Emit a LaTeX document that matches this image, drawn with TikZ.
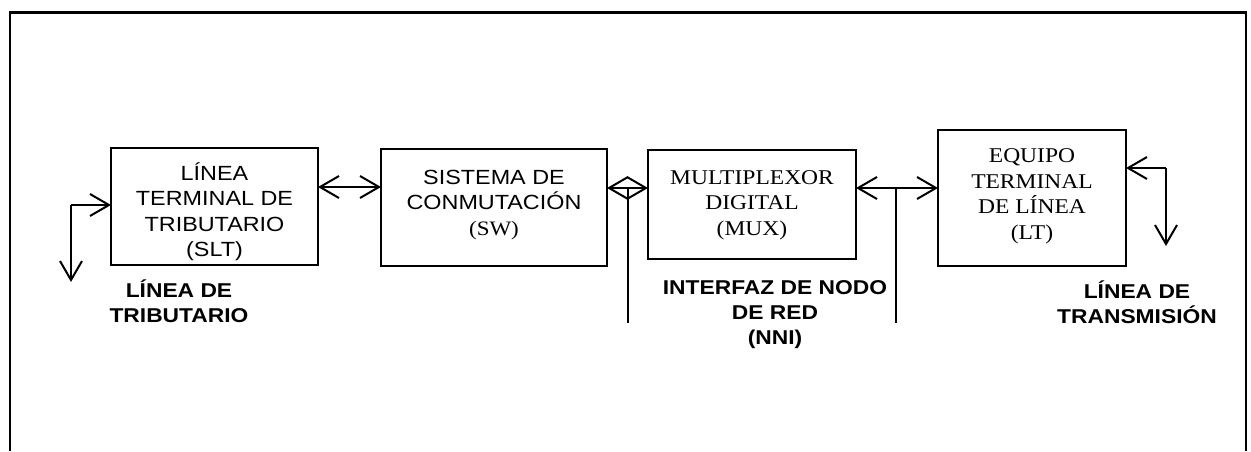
\documentclass[tikz,border=0pt]{standalone}
\usepackage{fontspec}
\setmainfont[FakeStretch=1.14]{Liberation Sans}
\newfontfamily\boxserif[FakeStretch=1.12]{Liberation Serif}
\usetikzlibrary{arrows.meta}
\newcommand{\shiftup}[2]{\raisebox{#1}[\height][\depth]{\begin{tabular}{@{}c@{}}#2\end{tabular}}}
\tikzset{
  blk/.style={draw, line width=2.4pt, outer sep=0pt, align=center, inner sep=0pt,
    font=\fontsize{20.5}{25.5}\selectfont},
  serifblk/.style={blk, font=\boxserif\fontsize{21}{25.5}\selectfont},
  conn/.style={line width=2pt},
  tip/.style={-{Straight Barb[length=19pt,width=22pt,line width=2pt]}},
  tips/.style={{Straight Barb[length=19pt,width=22pt,line width=2pt]}-{Straight Barb[length=19pt,width=22pt,line width=2pt]}},
  lbl/.style={align=center, font=\bfseries\fontsize{20}{25}\selectfont, inner sep=0pt}
}
\begin{document}
\begin{tikzpicture}[x=1pt,y=-1pt]
\useasboundingbox (0,0) rectangle (1251,451);
% frame
\draw[line width=2pt] (10,451) -- (10,12);
\draw[line width=3pt] (9,12) -- (1247,12);
\draw[line width=2pt] (1246,12) -- (1246,451);
% blocks
\node[blk, minimum width=207pt, minimum height=117pt] (slt) at (214.5,206.5)
  {\shiftup{-7pt}{L\'INEA\\TERMINAL DE\\TRIBUTARIO\\(SLT)}};
\node[blk, minimum width=226pt, minimum height=117pt] (sw) at (494,207.5)
  {\shiftup{3pt}{SISTEMA DE\\CONMUTACI\'ON\\{\boxserif (SW)}}};
\node[serifblk, minimum width=208pt, minimum height=109pt] (mux) at (752,204.5)
  {\shiftup{0pt}{MULTIPLEXOR\\DIGITAL\\(MUX)}};
\node[serifblk, minimum width=188pt, minimum height=136pt] (lt) at (1032,198)
  {\shiftup{2pt}{EQUIPO\\TERMINAL\\DE L\'INEA\\(LT)}};
% coordinates
\coordinate (c1) at (71,205);
\coordinate (c1d) at (71,282);
\coordinate (nni1) at (628,188);
\coordinate (nni1b) at (628,323);
\coordinate (nni2) at (896,188);
\coordinate (nni2b) at (896,323);
\coordinate (c2) at (1166,168);
\coordinate (c2d) at (1166,246);
% connectors
\draw[conn,tip] (c1) -- (slt.west |- c1);
\draw[conn,tip] (c1) -- (c1d);
\draw[conn,tips] (slt.east |- 0,187) -- (sw.west |- 0,187);
\draw[conn,tips] (sw.east |- nni1) -- (mux.west |- nni1);
\draw[conn] (nni1) -- (nni1b);
\draw[conn,tips] (mux.east |- nni2) -- (lt.west |- nni2);
\draw[conn] (nni2) -- (nni2b);
\draw[conn,tip] (c2) -- (lt.east |- c2);
\draw[conn,tip] (c2) -- (c2d);
% labels
\node[lbl] (ltrib) at (179,301) {L\'INEA DE\\TRIBUTARIO};
\node[lbl] (lnni) at (775,315) {INTERFAZ DE NODO\\DE RED\\(NNI)};
\node[lbl] (ltx) at (1137,302) {L\'INEA DE\\TRANSMISI\'ON};
\end{tikzpicture}
\end{document}
